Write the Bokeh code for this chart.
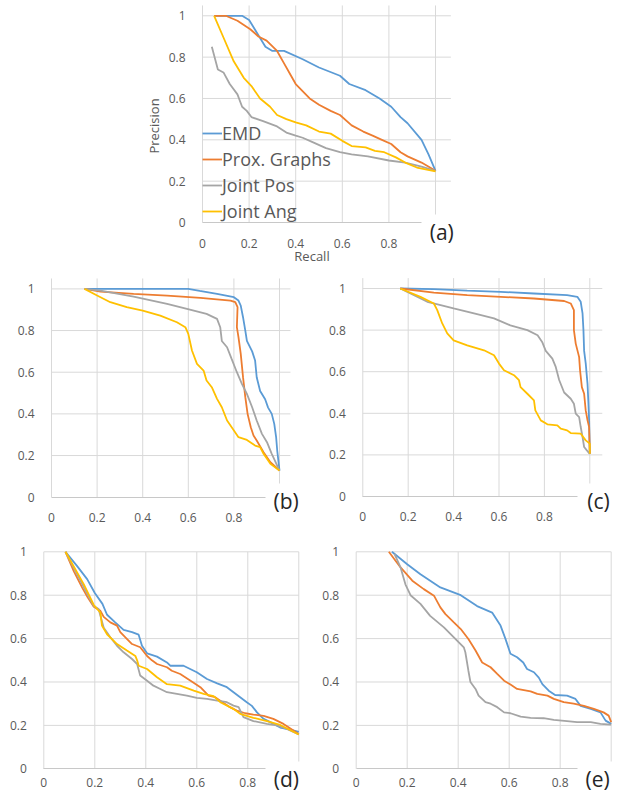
from bokeh.plotting import figure
from bokeh.layouts import column, row
from bokeh.models import (Spacer, Range1d, FixedTicker, CustomJSTickFormatter,
                          Label, Legend, LegendItem)
from bokeh.embed import file_html
from bokeh.resources import INLINE

SERIES = ["EMD", "Prox. Graphs", "Joint Pos", "Joint Ang"]
COLORS = ["#5B9BD5", "#ED7D31", "#A5A5A5", "#FFC000"]
X_TICKS = [0, 0.2, 0.4, 0.6, 0.8]
Y_TICKS = [0, 0.2, 0.4, 0.6, 0.8, 1.0]
GRID_X = [0, 0.2, 0.4, 0.6, 0.8, 1.0]
GRID_Y = [0.2, 0.4, 0.6, 0.8, 1.0]

# ---------------- panel (a) ----------------
a_emd_x = [0.05, 0.10, 0.17, 0.20, 0.27, 0.30, 0.35, 0.43, 0.50, 0.59, 0.63, 0.70, 0.76, 0.81, 0.85, 0.88, 0.94, 0.97, 1.0]
a_emd_y = [1.0, 1.0, 1.0, 0.98, 0.85, 0.83, 0.83, 0.79, 0.75, 0.71, 0.67, 0.64, 0.60, 0.56, 0.51, 0.48, 0.40, 0.33, 0.25]
a_prox_x = [0.05, 0.10, 0.15, 0.205, 0.24, 0.275, 0.32, 0.35, 0.38, 0.40, 0.46, 0.50, 0.55, 0.59, 0.64, 0.69, 0.73, 0.77, 0.81, 0.85, 0.88, 0.94, 1.0]
a_prox_y = [1.0, 1.0, 0.976, 0.935, 0.90, 0.88, 0.83, 0.77, 0.71, 0.67, 0.60, 0.57, 0.54, 0.52, 0.47, 0.44, 0.42, 0.40, 0.38, 0.34, 0.32, 0.29, 0.25]
a_pos_x = [0.04, 0.066, 0.09, 0.117, 0.15, 0.17, 0.19, 0.21, 0.26, 0.32, 0.36, 0.40, 0.43, 0.47, 0.53, 0.59, 0.64, 0.71, 0.80, 0.87, 0.94, 1.0]
a_pos_y = [0.85, 0.74, 0.726, 0.67, 0.62, 0.56, 0.54, 0.51, 0.49, 0.465, 0.435, 0.42, 0.41, 0.39, 0.36, 0.34, 0.33, 0.32, 0.30, 0.29, 0.27, 0.25]
a_ang_x = [0.05, 0.09, 0.134, 0.177, 0.21, 0.247, 0.29, 0.32, 0.36, 0.40, 0.445, 0.50, 0.55, 0.60, 0.64, 0.70, 0.74, 0.78, 0.83, 0.87, 0.92, 1.0]
a_ang_y = [1.0, 0.895, 0.78, 0.70, 0.66, 0.60, 0.56, 0.52, 0.50, 0.484, 0.47, 0.44, 0.43, 0.395, 0.37, 0.363, 0.347, 0.34, 0.315, 0.29, 0.266, 0.247]

# ---------------- panel (b) ----------------
b_emd_x = [0.145, 0.3, 0.45, 0.6, 0.65, 0.726, 0.80, 0.82, 0.83, 0.84, 0.85, 0.857, 0.88, 0.893, 0.90, 0.915, 0.937, 0.95, 0.966, 0.977, 0.985, 0.99, 1.0]
b_emd_y = [1.0, 1.0, 1.0, 1.0, 0.99, 0.976, 0.96, 0.944, 0.92, 0.864, 0.80, 0.75, 0.70, 0.656, 0.576, 0.51, 0.47, 0.43, 0.40, 0.352, 0.29, 0.224, 0.128]
b_prox_x = [0.145, 0.215, 0.36, 0.507, 0.653, 0.785, 0.806, 0.816, 0.813, 0.82, 0.83, 0.84, 0.85, 0.86, 0.874, 0.886, 0.90, 0.93, 0.96, 1.0]
b_prox_y = [1.0, 0.987, 0.976, 0.968, 0.957, 0.944, 0.936, 0.912, 0.816, 0.768, 0.688, 0.576, 0.48, 0.40, 0.336, 0.296, 0.272, 0.216, 0.168, 0.128]
b_pos_x = [0.145, 0.215, 0.36, 0.507, 0.594, 0.68, 0.726, 0.74, 0.747, 0.77, 0.79, 0.813, 0.835, 0.857, 0.88, 0.90, 0.923, 0.945, 0.966, 1.0]
b_pos_y = [1.0, 0.992, 0.963, 0.928, 0.904, 0.88, 0.856, 0.816, 0.75, 0.72, 0.664, 0.60, 0.544, 0.496, 0.432, 0.368, 0.304, 0.264, 0.208, 0.128]
b_ang_x = [0.145, 0.2, 0.258, 0.33, 0.40, 0.477, 0.55, 0.587, 0.60, 0.616, 0.638, 0.667, 0.68, 0.703, 0.726, 0.747, 0.77, 0.80, 0.82, 0.857, 0.893, 0.915, 0.93, 0.96, 1.0]
b_ang_y = [1.0, 0.968, 0.936, 0.912, 0.896, 0.872, 0.84, 0.816, 0.784, 0.704, 0.64, 0.608, 0.56, 0.528, 0.472, 0.432, 0.368, 0.32, 0.288, 0.275, 0.248, 0.24, 0.208, 0.16, 0.128]

# ---------------- panel (c) ----------------
c_emd_x = [0.165, 0.313, 0.46, 0.607, 0.754, 0.90, 0.945, 0.96, 0.968, 0.972, 0.975, 0.982, 0.99, 0.994, 0.997, 1.0]
c_emd_y = [1.0, 0.997, 0.99, 0.984, 0.976, 0.968, 0.96, 0.936, 0.88, 0.80, 0.70, 0.64, 0.54, 0.446, 0.366, 0.205]
c_prox_x = [0.165, 0.313, 0.46, 0.607, 0.754, 0.887, 0.916, 0.93, 0.93, 0.938, 0.953, 0.957, 0.965, 0.975, 0.982, 0.99, 0.997, 1.0]
c_prox_y = [1.0, 0.98, 0.968, 0.96, 0.952, 0.94, 0.928, 0.896, 0.80, 0.735, 0.67, 0.607, 0.526, 0.494, 0.414, 0.366, 0.334, 0.205]
c_pos_x = [0.165, 0.21, 0.284, 0.343, 0.40, 0.49, 0.578, 0.65, 0.725, 0.77, 0.79, 0.806, 0.835, 0.85, 0.865, 0.887, 0.916, 0.93, 0.938, 0.953, 0.96, 0.968, 0.975, 0.987, 1.0]
c_pos_y = [1.0, 0.976, 0.936, 0.92, 0.904, 0.88, 0.856, 0.823, 0.80, 0.775, 0.743, 0.70, 0.663, 0.623, 0.56, 0.50, 0.47, 0.446, 0.398, 0.382, 0.334, 0.286, 0.238, 0.222, 0.205]
c_ang_x = [0.165, 0.254, 0.313, 0.328, 0.35, 0.372, 0.40, 0.46, 0.534, 0.578, 0.60, 0.622, 0.666, 0.688, 0.695, 0.725, 0.754, 0.76, 0.784, 0.813, 0.857, 0.872, 0.90, 0.916, 0.96, 0.982, 1.0, 1.0]
c_ang_y = [1.0, 0.96, 0.928, 0.896, 0.832, 0.784, 0.751, 0.727, 0.703, 0.679, 0.639, 0.607, 0.583, 0.559, 0.526, 0.494, 0.462, 0.414, 0.366, 0.347, 0.342, 0.326, 0.318, 0.305, 0.302, 0.27, 0.254, 0.205]

# ---------------- panel (d) ----------------
d_emd_x = [0.085, 0.13, 0.17, 0.20, 0.23, 0.248, 0.28, 0.313, 0.346, 0.372, 0.385, 0.405, 0.444, 0.483, 0.496, 0.548, 0.60, 0.64, 0.68, 0.718, 0.744, 0.77, 0.796, 0.816, 0.836, 0.862, 0.888, 0.927, 0.966, 1.0]
d_emd_y = [1.0, 0.935, 0.874, 0.81, 0.76, 0.71, 0.675, 0.64, 0.63, 0.618, 0.567, 0.532, 0.517, 0.49, 0.475, 0.475, 0.445, 0.414, 0.394, 0.376, 0.353, 0.33, 0.307, 0.29, 0.26, 0.23, 0.215, 0.19, 0.18, 0.17]
d_prox_x = [0.085, 0.118, 0.15, 0.172, 0.196, 0.222, 0.235, 0.261, 0.287, 0.30, 0.32, 0.346, 0.378, 0.405, 0.424, 0.444, 0.483, 0.502, 0.535, 0.574, 0.614, 0.646, 0.672, 0.692, 0.73, 0.757, 0.79, 0.822, 0.862, 0.90, 0.94, 1.0]
d_prox_y = [1.0, 0.91, 0.836, 0.79, 0.747, 0.728, 0.70, 0.675, 0.66, 0.63, 0.606, 0.575, 0.56, 0.52, 0.50, 0.483, 0.468, 0.452, 0.437, 0.407, 0.376, 0.337, 0.33, 0.314, 0.284, 0.268, 0.256, 0.25, 0.244, 0.23, 0.207, 0.16]
d_pos_x = [0.085, 0.157, 0.196, 0.215, 0.222, 0.235, 0.261, 0.287, 0.313, 0.346, 0.366, 0.378, 0.405, 0.43, 0.457, 0.483, 0.522, 0.561, 0.60, 0.64, 0.68, 0.718, 0.744, 0.764, 0.783, 0.822, 0.875, 0.914, 0.953, 1.0]
d_pos_y = [1.0, 0.836, 0.75, 0.736, 0.705, 0.65, 0.606, 0.567, 0.537, 0.506, 0.483, 0.43, 0.406, 0.383, 0.368, 0.353, 0.345, 0.337, 0.327, 0.322, 0.314, 0.307, 0.291, 0.284, 0.238, 0.22, 0.207, 0.2, 0.184, 0.158]
d_ang_x = [0.085, 0.157, 0.196, 0.222, 0.228, 0.248, 0.287, 0.326, 0.359, 0.366, 0.372, 0.405, 0.444, 0.483, 0.535, 0.588, 0.627, 0.666, 0.692, 0.744, 0.77, 0.822, 0.875, 0.927, 1.0]
d_ang_y = [1.0, 0.85, 0.755, 0.72, 0.66, 0.62, 0.575, 0.545, 0.52, 0.50, 0.475, 0.46, 0.422, 0.39, 0.383, 0.36, 0.345, 0.335, 0.307, 0.276, 0.253, 0.235, 0.22, 0.202, 0.158]

# ---------------- panel (e) ----------------
e_emd_x = [0.14, 0.2, 0.252, 0.33, 0.41, 0.474, 0.533, 0.566, 0.585, 0.605, 0.631, 0.655, 0.67, 0.697, 0.716, 0.73, 0.755, 0.78, 0.827, 0.86, 0.88, 0.92, 0.958, 0.978, 1.0]
e_emd_y = [1.0, 0.943, 0.897, 0.836, 0.80, 0.75, 0.72, 0.66, 0.60, 0.53, 0.514, 0.49, 0.46, 0.445, 0.42, 0.39, 0.36, 0.34, 0.337, 0.322, 0.29, 0.276, 0.26, 0.222, 0.207]
e_prox_x = [0.128, 0.174, 0.22, 0.265, 0.305, 0.33, 0.35, 0.383, 0.41, 0.44, 0.468, 0.494, 0.527, 0.553, 0.58, 0.605, 0.631, 0.684, 0.71, 0.75, 0.775, 0.814, 0.853, 0.893, 0.932, 0.97, 0.99, 1.0]
e_prox_y = [1.0, 0.928, 0.867, 0.828, 0.798, 0.744, 0.713, 0.675, 0.644, 0.598, 0.545, 0.49, 0.468, 0.437, 0.406, 0.388, 0.368, 0.357, 0.345, 0.337, 0.322, 0.307, 0.30, 0.29, 0.276, 0.26, 0.245, 0.215]
e_pos_x = [0.15, 0.174, 0.193, 0.213, 0.252, 0.29, 0.344, 0.383, 0.422, 0.428, 0.44, 0.448, 0.468, 0.48, 0.507, 0.527, 0.553, 0.58, 0.605, 0.645, 0.684, 0.735, 0.775, 0.827, 0.866, 0.92, 0.958, 1.0]
e_pos_y = [0.99, 0.928, 0.85, 0.80, 0.76, 0.705, 0.652, 0.606, 0.56, 0.537, 0.452, 0.40, 0.368, 0.337, 0.307, 0.30, 0.284, 0.26, 0.256, 0.24, 0.235, 0.233, 0.225, 0.22, 0.215, 0.215, 0.207, 0.204]

FONT = "Open Sans"
TXT = "#595959"
GRID_COLOR = "#d9d9d9"


def make_panel(width, height, x_start, x_end, y_start, y_end,
               grid_x_end, grid_y_end, series, tag, tag_x, tag_y, axis_end,
               x_standoff, xlabel=None, ylabel=None, y_bounds=(0, 1.0)):
    p = figure(width=width, height=height, x_range=Range1d(x_start, x_end),
               y_range=Range1d(y_start, y_end),
               output_backend="svg", toolbar_location=None,
               min_border_left=0, min_border_right=0,
               min_border_top=0, min_border_bottom=0)
    p.outline_line_color = None
    p.background_fill_color = "white"
    p.border_fill_color = "white"
    p.xgrid.visible = False
    p.ygrid.visible = False
    # gridlines limited to the chart's plot area
    p.segment(x0=GRID_X, y0=[0] * len(GRID_X), x1=GRID_X, y1=[grid_y_end] * len(GRID_X),
              line_color=GRID_COLOR, line_width=1, level="underlay")
    p.segment(x0=[0] * len(GRID_Y), y0=GRID_Y, x1=[grid_x_end] * len(GRID_Y), y1=GRID_Y,
              line_color=GRID_COLOR, line_width=1, level="underlay")
    fmt = CustomJSTickFormatter(code="return (Math.round(tick*10)/10).toString();")
    p.xaxis.ticker = FixedTicker(ticks=X_TICKS)
    p.yaxis.ticker = FixedTicker(ticks=Y_TICKS)
    p.xaxis.formatter = fmt
    p.yaxis.formatter = fmt
    for ax in (p.xaxis, p.yaxis):
        ax.major_tick_line_color = None
        ax.minor_tick_line_color = None
        ax.major_label_text_font = FONT
        ax.major_label_text_font_size = "12px"
        ax.major_label_text_color = TXT
        ax.axis_label_text_font = FONT
        ax.axis_label_text_font_size = "13px"
        ax.axis_label_text_font_style = "normal"
        ax.axis_label_text_color = TXT
        ax.fixed_location = 0
    p.yaxis.axis_line_color = None
    p.yaxis.major_label_standoff = 11
    p.yaxis.bounds = y_bounds
    p.xaxis.axis_line_color = "#c8c8c8"
    p.xaxis.bounds = (0, axis_end)
    p.xaxis.major_label_standoff = x_standoff
    if xlabel:
        p.xaxis.axis_label = xlabel
        p.xaxis.axis_label_standoff = -4
    if ylabel:
        p.yaxis.axis_label = ylabel
        p.yaxis.axis_label_standoff = 3
    rends = []
    for (xs, ys), color in zip(series, COLORS):
        r = p.line(xs, ys, line_color=color, line_width=1.8)
        rends.append(r)
    lab = Label(x=tag_x, y=tag_y, text=tag, text_font=FONT, text_font_size="21px",
                text_color="#262626", text_baseline="top", text_align="left",
                background_fill_color="white", padding=4)
    p.add_layout(lab)
    return p, rends


pa, ra = make_panel(330, 265, -0.2661, 1.1502, -0.2080, 1.0740, 1.066, 1.05,
                    [(a_emd_x, a_emd_y), (a_prox_x, a_prox_y), (a_pos_x, a_pos_y), (a_ang_x, a_ang_y)],
                    "(a)", 0.958, 0.039, 0.94, 10, xlabel="Recall", ylabel="Precision",
                    y_bounds=(-0.07, 1.0))
legend = Legend(items=[LegendItem(label=s, renderers=[r]) for s, r in zip(SERIES, ra)],
                location=(62, 41), padding=0, margin=0, spacing=0,
                glyph_width=20, glyph_height=26, label_height=26, label_standoff=0,
                label_text_font=FONT, label_text_font_size="18px", label_text_color=TXT,
                background_fill_alpha=0, border_line_color=None)
pa.add_layout(legend)

pb, _ = make_panel(305, 265, -0.2237, 1.1140, -0.1599, 1.1123, 1.048, 1.05,
                   [(b_emd_x, b_emd_y), (b_prox_x, b_prox_y), (b_pos_x, b_pos_y), (b_ang_x, b_ang_y)],
                   "(b)", 0.956, 0.066, 0.94, 10)
pc, _ = make_panel(312, 265, -0.2524, 1.1220, -0.1635, 1.1106, 1.055, 1.05,
                   [(c_emd_x, c_emd_y), (c_prox_x, c_prox_y), (c_pos_x, c_pos_y), (c_ang_x, c_ang_y)],
                   "(c)", 0.971, 0.0625, 0.944, 10)
pd_, _ = make_panel(305, 267, -0.1698, 1.0263, -0.1323, 1.0982, 1.0, 1.0,
                    [(d_emd_x, d_emd_y), (d_prox_x, d_prox_y), (d_pos_x, d_pos_y), (d_ang_x, d_ang_y)],
                    "(d)", 0.886, 0.034, 0.87, 3)
pe, _ = make_panel(312, 267, -0.1988, 1.0247, -0.1323, 1.0982, 1.0, 1.0,
                   [(e_emd_x, e_emd_y), (e_prox_x, e_prox_y), (e_pos_x, e_pos_y)],
                   "(e)", 0.8835, 0.034, 0.867, 3)

layout = column(row(Spacer(width=140, height=265), pa), row(pb, pc), row(pd_, pe))

open("out.html", "w").write(file_html(layout, INLINE))
